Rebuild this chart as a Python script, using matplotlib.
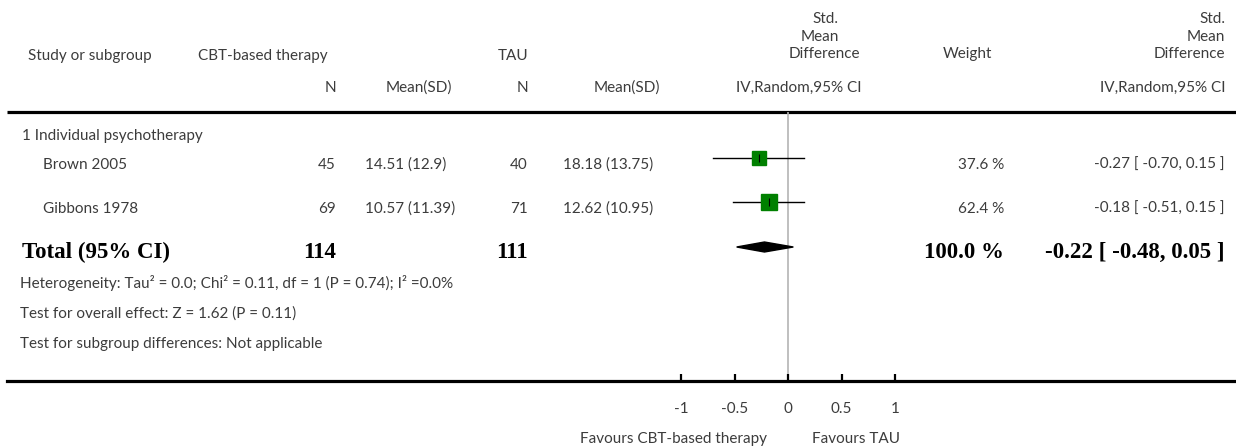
import matplotlib.pyplot as plt
import numpy as np

# data
studies = ["Brown 2005", "Gibbons 1978"]
n_cbt = [45, 69]
mean_cbt = ["14.51 (12.9)", "10.57 (11.39)"]
n_tau = [40, 71]
mean_tau = ["18.18 (13.75)", "12.62 (10.95)"]
smd = [-0.27, -0.18]
ci_lo = [-0.70, -0.51]
ci_hi = [0.15, 0.15]
weights = [37.6, 62.4]
total_n_cbt, total_n_tau = 114, 111
total_smd, total_lo, total_hi = -0.22, -0.48, 0.05
ticks = [-1, -0.5, 0, 0.5, 1]

W, H = 1236, 448
X0 = 788      # pixel of zero effect
UNIT = 107    # pixels per unit
LEFT = 7

fig = plt.figure(figsize=(W / 100, H / 100), dpi=100)

# text layer, in pixel coords
ax_t = fig.add_axes([0, 0, 1, 1])
ax_t.set_xlim(0, W)
ax_t.set_ylim(H, 0)
ax_t.axis('off')

tc = '#3c3c3c'
fs = 11
kw = dict(color=tc, fontsize=fs, family='Lato', va='baseline')
bkw = dict(color='black', fontsize=16.5, family='Liberation Serif', weight='bold', va='baseline')

# forest layer: bottom spine is the effect axis
top_px, bot_px = 112, 381
ax_f = fig.add_axes([LEFT / W, (H - bot_px) / H, 1 - LEFT / W, (bot_px - top_px) / H])
ax_f.patch.set_alpha(0)
ax_f.set_xlim((LEFT - X0) / UNIT, (W - X0) / UNIT)
ax_f.set_ylim(bot_px, top_px)
for s in ['top', 'left', 'right']:
    ax_f.spines[s].set_visible(False)
ax_f.spines['bottom'].set_linewidth(2.3)
ax_f.set_yticks([])
ax_f.set_xticks(ticks)
ax_f.set_xticklabels(["-1", "-0.5", "0", "0.5", "1"])
ax_f.tick_params(axis='x', direction='in', length=5, width=1.6, pad=15,
                 labelsize=fs, labelcolor=tc)
for lab in ax_f.get_xticklabels():
    lab.set_family('Lato')

ax_f.axvline(0, color='#b4b4b4', lw=1.2, zorder=1)

row_y = [158, 202]
for i in range(len(studies)):
    y = row_y[i]
    ax_f.plot([ci_lo[i], ci_hi[i]], [y, y], color='black', lw=1.0, zorder=2)
    ax_f.plot(smd[i], y, marker='s', ms=1.53 * np.sqrt(weights[i]),
              color='#008000', mec='#008000', zorder=3)
    ax_f.plot(smd[i], y, marker='|', ms=6, color='black', mew=0.8, zorder=4)

ty = 247
ax_f.fill([total_lo, total_smd, total_hi, total_smd], [ty, ty - 5, ty, ty + 5],
          color='black', zorder=3)

# table text
ax_t.plot([LEFT, W], [112, 112], color='black', lw=2.3, solid_capstyle='butt')

ax_t.text(28, 60, "Study or subgroup", ha='left', **kw)
ax_t.text(198, 60, "CBT-based therapy", ha='left', **kw)
ax_t.text(528, 60, "TAU", ha='right', **kw)
ax_t.text(838, 23, "Std.", ha='right', **kw)
ax_t.text(839, 41, "Mean", ha='right', **kw)
ax_t.text(860, 58, "Difference", ha='right', **kw)
ax_t.text(967, 58, "Weight", ha='center', **kw)
ax_t.text(1225, 23, "Std.", ha='right', **kw)
ax_t.text(1225, 41, "Mean", ha='right', **kw)
ax_t.text(1225, 58, "Difference", ha='right', **kw)

ax_t.text(336, 92, "N", ha='right', **kw)
ax_t.text(452, 92, "Mean(SD)", ha='right', **kw)
ax_t.text(528, 92, "N", ha='right', **kw)
ax_t.text(660, 92, "Mean(SD)", ha='right', **kw)
ax_t.text(799, 92, "IV,Random,95% CI", ha='center', **kw)
ax_t.text(1225, 92, "IV,Random,95% CI", ha='right', **kw)

ax_t.text(22, 140, "1 Individual psychotherapy", ha='left', **kw)
for i in range(len(studies)):
    y = row_y[i] + 11
    ax_t.text(43, y, studies[i], ha='left', **kw)
    ax_t.text(336, y, str(n_cbt[i]), ha='right', **kw)
    ax_t.text(365, y, mean_cbt[i], ha='left', **kw)
    ax_t.text(528, y, str(n_tau[i]), ha='right', **kw)
    ax_t.text(563, y, mean_tau[i], ha='left', **kw)
    ax_t.text(1004, y, f"{weights[i]:.1f} %", ha='right', **kw)
    ax_t.text(1225, y, f"{smd[i]:.2f} [ {ci_lo[i]:.2f}, {ci_hi[i]:.2f} ]", ha='right', **kw)

ax_t.text(22, 258, "Total (95% CI)", ha='left', **bkw)
ax_t.text(336, 258, str(total_n_cbt), ha='right', **bkw)
ax_t.text(528, 258, str(total_n_tau), ha='right', **bkw)
ax_t.text(1004, 258, f"{sum(weights):.1f} %", ha='right', **bkw)
ax_t.text(1225, 258, f"{total_smd:.2f} [ {total_lo:.2f}, {total_hi:.2f} ]", ha='right', **bkw)

ax_t.text(20, 288, "Heterogeneity: Tau² = 0.0; Chi² = 0.11, df = 1 (P = 0.74); I² =0.0%", ha='left', **kw)
ax_t.text(20, 318, "Test for overall effect: Z = 1.62 (P = 0.11)", ha='left', **kw)
ax_t.text(20, 348, "Test for subgroup differences: Not applicable", ha='left', **kw)

ax_t.text(674, 443, "Favours CBT-based therapy", ha='center', **kw)
ax_t.text(856, 443, "Favours TAU", ha='center', **kw)

fig.savefig('out.png', dpi=100)
